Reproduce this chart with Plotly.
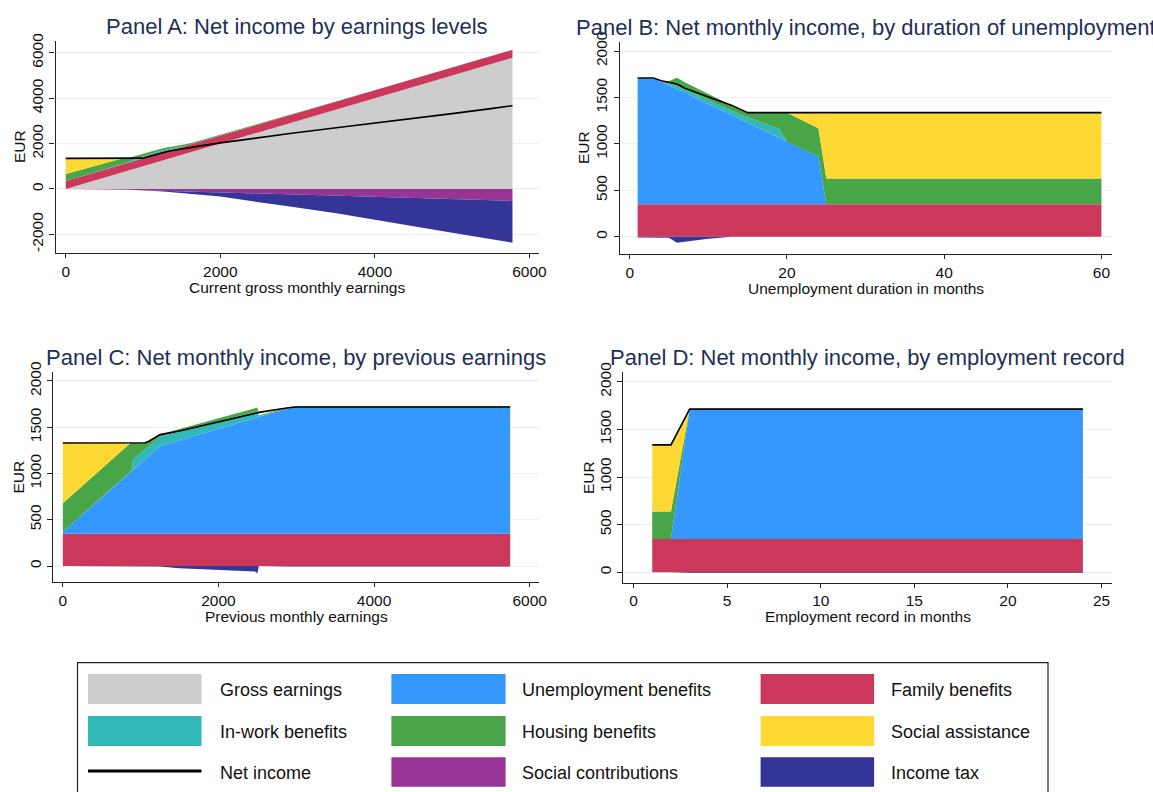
import plotly.graph_objects as go

FIG_W, FIG_H = 1153, 792

# ---------------- Panel A: by current gross monthly earnings ----------------
A_X = [0, 250, 500, 700, 750, 800, 900, 1000, 1100, 1200, 1300, 1400, 1500,
       1600, 1750, 2000, 2500, 2800, 2900, 3500, 4000, 4500, 5000, 5500, 5780]
A_GROSS = [0, 250, 500, 700, 750, 800, 900, 1000, 1100, 1200, 1300, 1400, 1500,
           1600, 1750, 2000, 2500, 2800, 2900, 3500, 4000, 4500, 5000, 5500, 5780]
A_FAMILY = [350, 350, 350, 350, 350, 350, 350, 350, 350, 350, 350, 350, 350,
            350, 350, 350, 350, 350, 350, 350, 350, 350, 350, 350, 350]
A_INWORK = [0, 0, 0, 0, 0, 20, 70, 90, 100, 100, 90, 65, 30,
            0, 0, 0, 0, 0, 0, 0, 0, 0, 0, 0, 0]
A_HOUSING = [310, 295, 280, 272, 268, 180, 120, 110, 105, 95, 85, 70, 62,
             55, 48, 42, 35, 28, 0, 0, 0, 0, 0, 0, 0]
A_SOCIAL = [691, 456, 221, 29, 0, 0, 0, 0, 0, 0, 0, 0, 0,
            0, 0, 0, 0, 0, 0, 0, 0, 0, 0, 0, 0]
A_CONTRIB = [0, 0, 0, -20, -25, -30, -40, -50, -60, -70, -80, -90, -100,
             -110, -125, -150, -200, -230, -240, -300, -350, -400, -450, -500, -525]
A_TAX = [0, 0, 0, 0, 0, 0, 0, 0, -5, -25, -45, -65, -85,
         -100, -125, -185, -385, -490, -530, -770, -990, -1240, -1480, -1710, -1840]
A_NET = [1351, 1351, 1351, 1351, 1351, 1351, 1351, 1358, 1450, 1550, 1640, 1710, 1770,
         1815, 1900, 2030, 2270, 2400, 2445, 2700, 2900, 3110, 3320, 3540, 3670]

# ---------------- Panel B: by duration of unemployment ----------------
B_X = [1, 3, 4, 5, 6, 7, 10, 13, 15, 18, 19, 20, 24, 25, 60]
B_FAMILY = [350, 350, 350, 350, 350, 350, 350, 350, 350, 350, 350, 350, 350, 350, 350]
B_UNEMP = [1355, 1355, 1318, 1281, 1245, 1205, 1080, 958, 877, 755, 714, 674, 515, 0, 0]
B_INWORK = [0, 0, 10, 20, 30, 32, 40, 50, 60, 85, 100, 0, 0, 0, 0]
B_HOUSING = [0, 0, 0, 27, 88, 77, 67, 53, 50, 147, 173, 312, 303, 278, 278]
B_SOCIAL = [0, 0, 0, 0, 0, 0, 0, 0, 0, 0, 0, 0, 168, 708, 708]
B_TAX = [-8, -8, -8, -10, -65, -52, -21, 0, 0, 0, 0, 0, 0, 0, 0]
B_NET = [1710, 1710, 1681, 1663, 1645, 1600, 1510, 1415, 1337, 1337, 1337, 1337, 1337, 1337, 1337]

# ---------------- Panel C: by previous earnings ----------------
C_X = [0, 850, 870, 890, 900, 1000, 1060, 1100, 1150, 1250, 1500, 2000, 2470,
       2500, 2520, 2900, 3000, 5750]
C_FAMILY = [350, 350, 350, 350, 350, 350, 350, 350, 350, 350, 350, 350, 350,
            350, 350, 350, 350, 350]
C_UNEMP = [21, 656, 671, 686, 693, 766, 809, 838, 874, 947, 1010, 1135, 1253,
           1261, 1266, 1355, 1360, 1360]
C_INWORK = [0, 0, 0, 0, 105, 105, 100, 100, 100, 100, 95, 80, 62,
            62, 0, 0, 0, 0]
C_HOUSING = [307, 310, 309, 294, 182, 109, 71, 57, 46, 23, 25, 32, 36,
             40, 10, 10, 18, 18]
C_SOCIAL = [652, 14, 0, 0, 0, 0, 0, 0, 0, 0, 0, 0, 0,
            0, 0, 0, 0, 0]
C_TAX = [0, 0, 0, 0, 0, 0, 0, 0, 0, -5, -25, -45, -60,
         -80, 0, -5, -6, -6]
C_NET = [1330, 1330, 1330, 1330, 1330, 1330, 1332, 1345, 1372, 1420, 1460, 1560, 1648,
         1655, 1660, 1710, 1718, 1718]

# ---------------- Panel D: by employment record ----------------
D_X = [1, 2, 3, 24]
D_FAMILY = [350, 350, 350, 350]
D_UNEMP = [0, 0, 1367, 1367]
D_HOUSING = [287, 287, 0, 0]
D_SOCIAL = [700, 700, 0, 0]
D_TAX = [0, 0, -8, -8]
D_NET = [1337, 1337, 1712, 1712]

COLORS = {
    "gross": "#cdcdcd",
    "unemp": "#3598fe",
    "family": "#cc385c",
    "inwork": "#33b8b9",
    "housing": "#48a548",
    "social": "#fed934",
    "contrib": "#983496",
    "tax": "#353598",
}
TITLE_COLOR = "#1f2f57"
FONT = "Liberation Sans, Arial, sans-serif"


def fx(px):
    return px / FIG_W


def fy(py):
    return 1 - py / FIG_H


PANELS = [
    dict(title="Panel A: Net income by earnings levels",
         xtitle="Current gross monthly earnings",
         box=(55.6, 40.7, 538.6, 253.3), xr=[-131, 6118], yr=[-2833, 6533],
         xt=[0, 2000, 4000, 6000], yt=[-2000, 0, 2000, 4000, 6000],
         x=A_X,
         pos=[("gross", A_GROSS), ("family", A_FAMILY), ("inwork", A_INWORK),
              ("housing", A_HOUSING), ("social", A_SOCIAL)],
         neg=[("contrib", A_CONTRIB), ("tax", A_TAX)],
         net=A_NET),
    dict(title="Panel B: Net monthly income, by duration of unemployment",
         xtitle="Unemployment duration in months",
         box=(619.7, 41.7, 1111.9, 254.0), xr=[-1.28, 61.33], yr=[-186, 2101],
         xt=[0, 20, 40, 60], yt=[0, 500, 1000, 1500, 2000],
         x=B_X,
         pos=[("family", B_FAMILY), ("unemp", B_UNEMP), ("inwork", B_INWORK),
              ("housing", B_HOUSING), ("social", B_SOCIAL)],
         neg=[("tax", B_TAX)],
         net=B_NET),
    dict(title="Panel C: Net monthly income, by previous earnings",
         xtitle="Previous monthly earnings",
         box=(53.1, 371.7, 539.2, 582.3), xr=[-125, 6123], yr=[-176, 2100],
         xt=[0, 2000, 4000, 6000], yt=[0, 500, 1000, 1500, 2000],
         x=C_X,
         pos=[("family", C_FAMILY), ("unemp", C_UNEMP), ("inwork", C_INWORK),
              ("housing", C_HOUSING), ("social", C_SOCIAL)],
         neg=[("tax", C_TAX)],
         net=C_NET),
    dict(title="Panel D: Net monthly income, by employment record",
         xtitle="Employment record in months",
         box=(623.4, 371.7, 1111.9, 582.7), xr=[-0.54, 25.55], yr=[-109, 2105],
         xt=[0, 5, 10, 15, 20, 25], yt=[0, 500, 1000, 1500, 2000],
         x=D_X,
         pos=[("family", D_FAMILY), ("unemp", D_UNEMP),
              ("housing", D_HOUSING), ("social", D_SOCIAL)],
         neg=[("tax", D_TAX)],
         net=D_NET),
]

fig = go.Figure()
annotations = []
shapes = []
axis_font = dict(family=FONT, size=15.5, color="#111111")

for i, p in enumerate(PANELS, start=1):
    sfx = "" if i == 1 else str(i)
    xa, ya = "x" + sfx, "y" + sfx
    # stacked areas above and below zero
    for group, items in (("pos", p["pos"]), ("neg", p["neg"])):
        for key, vals in items:
            fig.add_trace(go.Scatter(
                x=p["x"], y=vals, mode="lines", stackgroup="%s%d" % (group, i),
                line=dict(width=0, color=COLORS[key]), fillcolor=COLORS[key],
                xaxis=xa, yaxis=ya, showlegend=False, hoverinfo="skip"))
    fig.add_trace(go.Scatter(
        x=p["x"], y=p["net"], mode="lines",
        line=dict(width=1.6, color="#000000"),
        xaxis=xa, yaxis=ya, showlegend=False, hoverinfo="skip"))

    x0, y0, x1, y1 = p["box"]
    fig.update_layout(**{
        "xaxis" + sfx: dict(
            domain=[fx(x0), fx(x1)], range=p["xr"], anchor=ya, automargin=False,
            showgrid=False, zeroline=False, showline=True,
            linecolor="#222222", linewidth=1.3,
            ticks="outside", ticklen=4, tickwidth=1.2, tickcolor="#222222",
            tickvals=p["xt"], ticktext=[str(v) for v in p["xt"]],
            tickfont=axis_font, fixedrange=True),
        "yaxis" + sfx: dict(
            domain=[fy(y1), fy(y0)], range=p["yr"], anchor=xa, automargin=False,
            showgrid=True, gridcolor="#e8f0f2", gridwidth=1.3,
            zeroline=False, showline=True,
            linecolor="#222222", linewidth=1.3,
            ticks="outside", ticklen=5, tickwidth=1.2, tickcolor="#222222",
            tickvals=p["yt"], ticktext=[str(v) for v in p["yt"]],
            tickangle=-90, tickfont=axis_font, fixedrange=True),
    })

    cx = (x0 + x1) / 2
    annotations.append(dict(
        text=p["title"], x=fx(cx), y=fy(y0 - 14.5), xref="paper", yref="paper",
        xanchor="center", yanchor="middle", showarrow=False,
        font=dict(family=FONT, size=22, color=TITLE_COLOR)))
    annotations.append(dict(
        text=p["xtitle"], x=fx(cx), y=fy(y1 + 34), xref="paper", yref="paper",
        xanchor="center", yanchor="middle", showarrow=False,
        font=dict(family=FONT, size=15.5, color="#111111")))
    annotations.append(dict(
        text="EUR", x=fx(x0 - 35.5), y=fy((y0 + y1) / 2), xref="paper", yref="paper",
        xanchor="center", yanchor="middle", showarrow=False, textangle=-90,
        font=dict(family=FONT, size=15.5, color="#111111")))

# ---------------- Legend box ----------------
shapes.append(dict(type="rect", xref="paper", yref="paper",
                   x0=fx(77.5), x1=fx(1048), y0=fy(800), y1=fy(662.7),
                   line=dict(color="#222222", width=1.2), fillcolor="rgba(0,0,0,0)"))

LEGEND_ITEMS = [
    ("gross", "Gross earnings", 0, 0), ("unemp", "Unemployment benefits", 1, 0),
    ("family", "Family benefits", 2, 0),
    ("inwork", "In-work benefits", 0, 1), ("housing", "Housing benefits", 1, 1),
    ("social", "Social assistance", 2, 1),
    ("net", "Net income", 0, 2), ("contrib", "Social contributions", 1, 2),
    ("tax", "Income tax", 2, 2),
]
COL_SW = [(88, 201.5), (391.4, 505.6), (760.6, 874.1)]
COL_TXT = [217.5, 520.2, 889.4]
ROW_Y = [(674, 704), (716, 746), (757.3, 786.7)]

for key, label, c, r in LEGEND_ITEMS:
    sx0, sx1 = COL_SW[c]
    ry0, ry1 = ROW_Y[r]
    if key == "net":
        ym = (ry0 + ry1) / 2 - 1.0
        shapes.append(dict(type="line", xref="paper", yref="paper",
                           x0=fx(sx0), x1=fx(sx1), y0=fy(ym), y1=fy(ym),
                           line=dict(color="#000000", width=3)))
    else:
        shapes.append(dict(type="rect", xref="paper", yref="paper",
                           x0=fx(sx0), x1=fx(sx1), y0=fy(ry1), y1=fy(ry0),
                           line=dict(width=0), fillcolor=COLORS[key]))
    annotations.append(dict(
        text=label, x=fx(COL_TXT[c]), y=fy((ry0 + ry1) / 2 + 0.5),
        xref="paper", yref="paper", xanchor="left", yanchor="middle",
        showarrow=False, font=dict(family=FONT, size=18, color="#111111")))

fig.update_layout(
    width=FIG_W, height=FIG_H, autosize=False,
    margin=dict(l=0, r=0, t=0, b=0, autoexpand=False),
    paper_bgcolor="white", plot_bgcolor="white",
    font=dict(family=FONT, color="#111111"),
    annotations=annotations, shapes=shapes,
    showlegend=False,
)

fig.write_html("out.html")
